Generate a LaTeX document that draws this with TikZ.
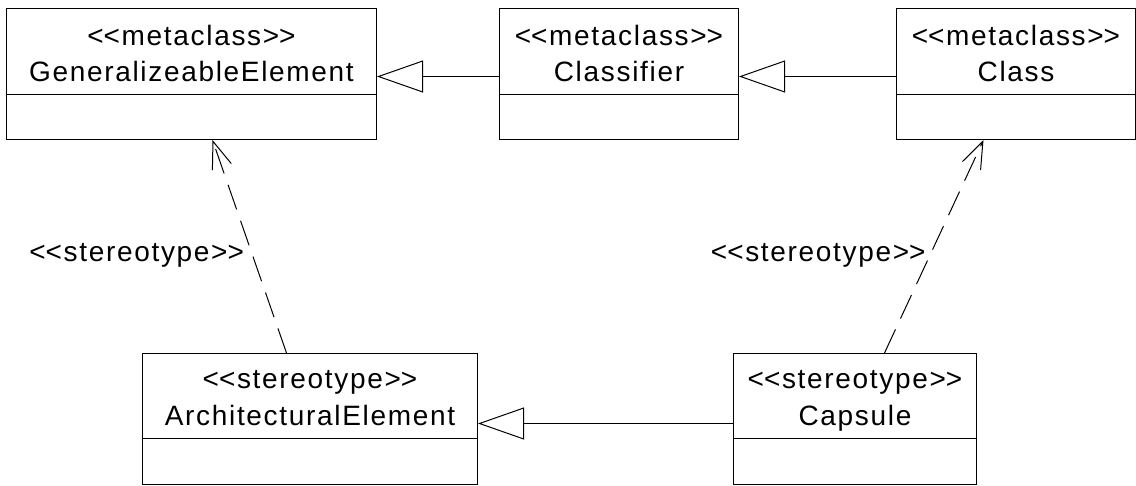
\documentclass[tikz,border=0pt]{standalone}
\usepackage{fontspec}
\setmainfont{Liberation Sans}[LetterSpace=6]
\usepackage{tikz}
\usetikzlibrary{arrows.meta,positioning,calc}
\newcommand{\ltlt}{<\kern0pt<}
\newcommand{\gtgt}{>\kern0pt>}
\tikzstyle{classbox} = [rectangle, draw, line width=1pt, anchor=north west, minimum height=131pt, inner sep=0pt]
\tikzset{generalize/.style = {
    line width=1pt,
    -{Triangle[open, length=46pt, width=32pt]},
  }
}
\tikzset{depend/.style = {
    line width=1pt, dash pattern=on 26pt off 12pt,
    -{Straight Barb[length=27pt, width=20pt]},
  }
}

\begin{document}
\begin{tikzpicture}[x=1pt, y=-1pt]
          \useasboundingbox (0,0) rectangle (1136,485);
          \tikzstyle{stereo} = [anchor=base, inner sep=0pt, font=\fontsize{28}{34}\selectfont]
          \tikzstyle{divider} = [line width=1pt]

          % metaclasses
          \node[classbox, minimum width=370pt] (genel) at (6,8) {};
          \node[stereo] (genel-st) at ([yshift=-37pt]genel.north) {\ltlt metaclass\gtgt};
          \node[stereo] (genel-nm) at ([yshift=-73pt]genel.north) {GeneralizeableElement};
          \draw[divider] ([yshift=-86pt]genel.north west) -- ([yshift=-86pt]genel.north east);

          \node[classbox, minimum width=239pt] (classifier) at (499,8) {};
          \node[stereo] (classifier-st) at ([yshift=-37pt]classifier.north) {\ltlt metaclass\gtgt};
          \node[stereo] (classifier-nm) at ([yshift=-73pt]classifier.north) {Classifier};
          \draw[divider] ([yshift=-86pt]classifier.north west) -- ([yshift=-86pt]classifier.north east);

          \node[classbox, minimum width=239pt] (class) at (896,8) {};
          \node[stereo] (class-st) at ([yshift=-37pt]class.north) {\ltlt metaclass\gtgt};
          \node[stereo] (class-nm) at ([yshift=-73pt]class.north) {Class};
          \draw[divider] ([yshift=-86pt]class.north west) -- ([yshift=-86pt]class.north east);

          % stereotypes
          \node[classbox, minimum width=335pt] (archel) at (142,353) {};
          \node[stereo] (archel-st) at ([yshift=-35pt]archel.north) {\ltlt stereotype\gtgt};
          \node[stereo] (archel-nm) at ([yshift=-72pt]archel.north) {ArchitecturalElement};
          \draw[divider] ([yshift=-85pt]archel.north west) -- ([yshift=-85pt]archel.north east);

          \node[classbox, minimum width=243pt] (capsule) at (733,353) {};
          \node[stereo] (capsule-st) at ([yshift=-35pt]capsule.north) {\ltlt stereotype\gtgt};
          \node[stereo] (capsule-nm) at ([yshift=-72pt]capsule.north) {Capsule};
          \draw[divider] ([yshift=-85pt]capsule.north west) -- ([yshift=-85pt]capsule.north east);

          % edges
          \draw[generalize] ([yshift=-2.5pt]classifier.west) -- ([yshift=-2.5pt]genel.east);
          \draw[generalize] ([yshift=-2.5pt]class.west) -- ([yshift=-2.5pt]classifier.east);
          \draw[generalize] ([yshift=-4.5pt]capsule.west) -- ([yshift=-4.5pt]archel.east);
          \draw[depend] ([xshift=-23.5pt]archel.north) -- ([xshift=21pt]genel.south) node (archel-lbl) [pos=0.46, left=8pt, stereo, anchor=east] {\ltlt stereotype\gtgt};
          \draw[depend] ([xshift=29.5pt]capsule.north) -- ([xshift=-32.5pt]class.south) node (capsule-lbl) [pos=0.46, left=4pt, stereo, anchor=east] {\ltlt stereotype\gtgt};
        \end{tikzpicture}
\end{document}
